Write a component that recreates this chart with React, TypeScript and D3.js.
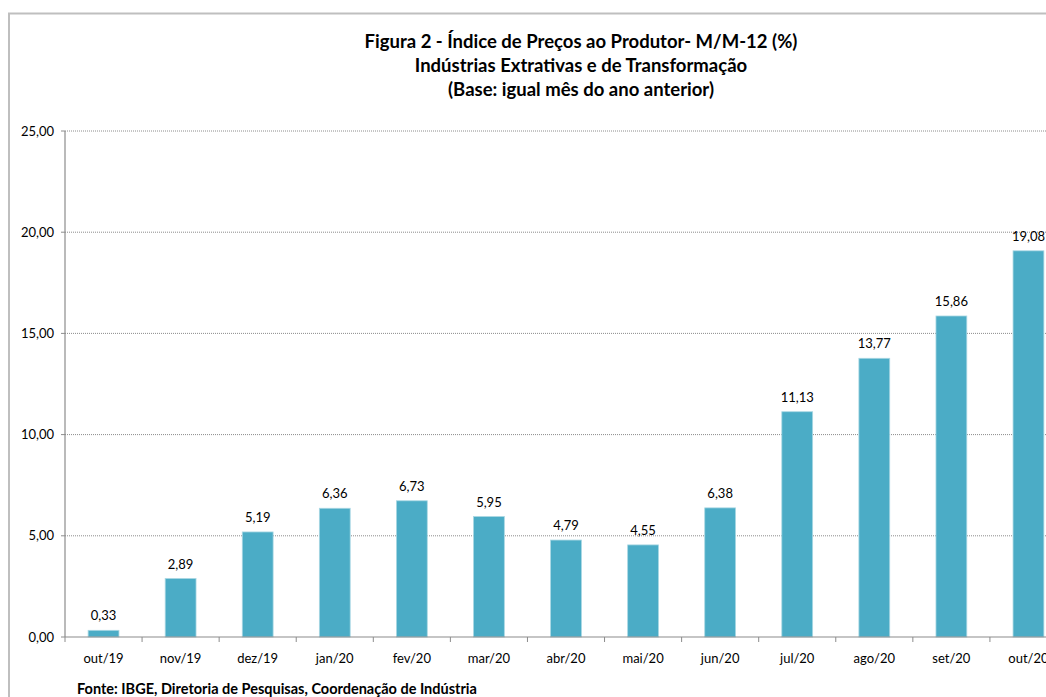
import React from 'react';
import * as d3 from 'd3';

const categories = ['out/19', 'nov/19', 'dez/19', 'jan/20', 'fev/20', 'mar/20', 'abr/20', 'mai/20', 'jun/20', 'jul/20', 'ago/20', 'set/20', 'out/20'];
const values = [0.33, 2.89, 5.19, 6.36, 6.73, 5.95, 4.79, 4.55, 6.38, 11.13, 13.77, 15.86, 19.08];
const yTicks = [0, 5, 10, 15, 20, 25];
const titleLines = [
  'Figura 2 - Índice de Preços ao Produtor- M/M-12 (%)',
  'Indústrias Extrativas e de Transformação',
  '(Base: igual mês do ano anterior)',
];
const footer = 'Fonte: IBGE, Diretoria de Pesquisas, Coordenação de Indústria';

const W = 1046, H = 697;
const font = 'Lato, "Open Sans", sans-serif';
const fmt = (v: number) => v.toFixed(2).replace('.', ',');

const App = () => {
  const left = 65, right = 1067, top = 131, bottom = 637;
  const x = d3.scaleBand().domain(categories).range([left, right]).paddingInner(0.6).paddingOuter(0.3);
  const y = d3.scaleLinear().domain([0, 25]).range([bottom, top]);
  const step = x.step();

  return (
    <svg width={W} height={H} style={{ position: 'absolute', left: 0, top: 0, background: '#fff' }}>
      {/* chart frame */}
      <path d={`M9,${H + 5} V13.5 H${W + 5}`} fill="none" stroke="#bfbfbf" strokeWidth={2} />

      {titleLines.map((t, i) => (
        <text key={i} x={581} y={48 + i * 24} textAnchor="middle" fontFamily={font} fontWeight="bold" fontSize={18.5} fill="#000">{t}</text>
      ))}

      {/* grid + y axis */}
      {yTicks.map(t => (
        <g key={t}>
          {t > 0 && <line x1={left} x2={right} y1={y(t)} y2={y(t)} stroke="#8c8c8c" strokeWidth={1} strokeDasharray="1,1" />}
          <line x1={left - 4} x2={left} y1={y(t)} y2={y(t)} stroke="#8c8c8c" />
          <text x={left - 11} y={y(t) + 4.5} textAnchor="end" fontFamily={font} fontSize={13} fill="#000">{fmt(t)}</text>
        </g>
      ))}
      <line x1={left} x2={left} y1={top} y2={bottom} stroke="#8c8c8c" strokeWidth={1.2} />

      {/* bars */}
      {categories.map((c, i) => (
        <g key={c}>
          <rect x={x(c)} y={y(values[i])} width={x.bandwidth()} height={bottom - y(values[i])} fill="#4bacc6" stroke="#a9d7e3" strokeWidth={0.8} />
          <text x={(x(c) ?? 0) + x.bandwidth() / 2} y={y(values[i]) - 10} textAnchor="middle" fontFamily={font} fontSize={13} fill="#000">{fmt(values[i])}</text>
          <text x={(x(c) ?? 0) + x.bandwidth() / 2} y={663} textAnchor="middle" fontFamily={font} fontSize={13} fill="#000">{c}</text>
        </g>
      ))}

      {/* x axis */}
      <line x1={left} x2={right} y1={bottom} y2={bottom} stroke="#8c8c8c" strokeWidth={1.2} />
      {d3.range(categories.length + 1).map(i => (
        <line key={i} x1={left + i * step} x2={left + i * step} y1={bottom} y2={bottom + 5} stroke="#8c8c8c" />
      ))}

      <text x={77} y={694} fontFamily={font} fontWeight="bold" fontSize={14.5} fill="#000">{footer}</text>
    </svg>
  );
};

export default App;
